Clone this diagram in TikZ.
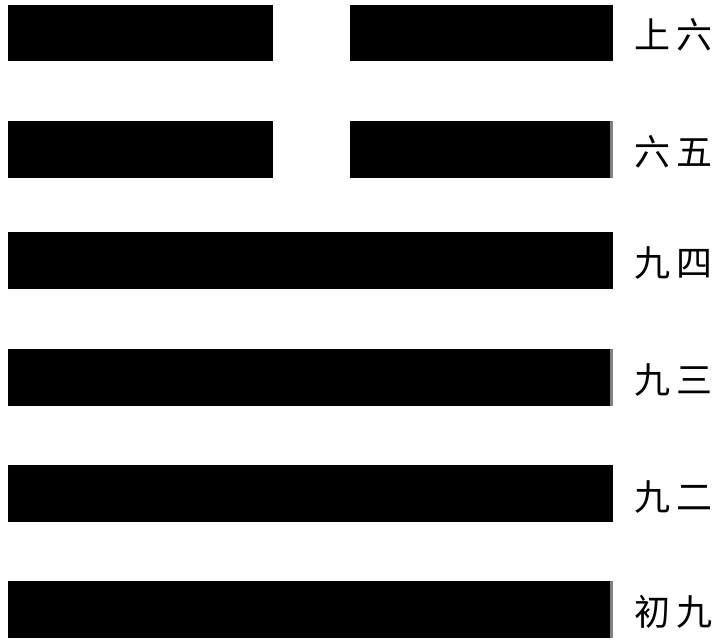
\documentclass[tikz,border=0pt]{standalone}
\usepackage{fontspec}
\newfontfamily\cjk{Noto Sans CJK TC}
\newcommand{\yao}[2]{#1\hspace{6pt}#2}
\begin{document}
\begin{tikzpicture}[x=1pt,y=-1pt,
  bar/.style={fill=black},
  edge/.style={fill=black!50},
  lbl/.style={anchor=west,font=\cjk\fontsize{36}{36}\selectfont,inner sep=0pt}]
\useasboundingbox (0,0) rectangle (727,642);
% row 1: broken
\fill[bar] (8,5) rectangle (273,61);
\fill[bar] (350,5) rectangle (613,61);
\node[lbl] (l1) at (634,35) {\yao{上}{六}};
% row 2: broken
\fill[bar] (8,121) rectangle (273,178);
\fill[bar] (350,121) rectangle (610,178);
\fill[edge] (610,121) rectangle (613,178);
\node[lbl] (l2) at (634,152) {\yao{六}{五}};
% row 3: solid
\fill[bar] (8,232) rectangle (613,289);
\node[lbl] (l3) at (634,263) {\yao{九}{四}};
% row 4: solid
\fill[bar] (8,349) rectangle (610,406);
\fill[edge] (610,349) rectangle (613,406);
\node[lbl] (l4) at (634,380) {\yao{九}{三}};
% row 5: solid
\fill[bar] (8,465) rectangle (613,522);
\node[lbl] (l5) at (634,497) {\yao{九}{二}};
% row 6: solid
\fill[bar] (8,581) rectangle (610,638);
\fill[edge] (610,581) rectangle (613,638);
\node[lbl] (l6) at (634,612) {\yao{初}{九}};
\end{tikzpicture}
\end{document}
